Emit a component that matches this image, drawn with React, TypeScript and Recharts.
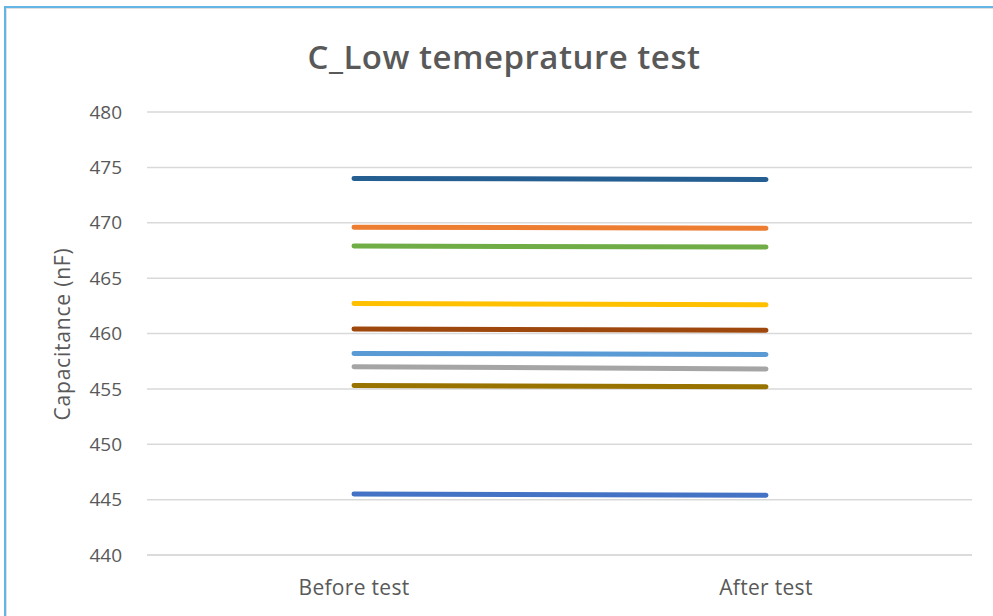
import React from "react";
import { LineChart, Line, XAxis, YAxis, CartesianGrid } from "recharts";

const categories = ["Before test", "After test"];
const s1 = [474.0, 473.9];
const s2 = [469.6, 469.5];
const s3 = [467.9, 467.8];
const s4 = [462.7, 462.6];
const s5 = [460.4, 460.3];
const s6 = [458.2, 458.1];
const s7 = [457.0, 456.8];
const s8 = [455.3, 455.2];
const s9 = [445.5, 445.4];
const yTicks = [440, 445, 450, 455, 460, 465, 470, 475, 480];

const seriesList = [s1, s2, s3, s4, s5, s6, s7, s8, s9];
const colors = ["#255E91", "#ED7D31", "#70AD47", "#FFC000", "#9E480E", "#5B9BD5", "#A5A5A5", "#997300", "#4472C4"];

const data = categories.map((c, i) => {
  const row: Record<string, number | string> = { name: c };
  seriesList.forEach((s, k) => {
    row["s" + k] = s[i];
  });
  return row;
});

const FONT = "'Open Sans', sans-serif";

export default function App() {
  return (
    <div style={{ position: "absolute", left: 0, top: 0, width: 993, height: 616, background: "#fff", overflow: "hidden" }}>
      <div style={{ position: "absolute", left: 4, top: 6, width: 1200, height: 800, borderLeft: "2px solid #63B5E6", borderTop: "2px solid #63B5E6", boxShadow: "inset 1px 1px 0 #e0e0e0" }} />
      <div style={{ position: "absolute", left: 0, top: 34, width: 1008, textAlign: "center", fontFamily: FONT, fontWeight: 600, fontSize: 33, letterSpacing: 0.5, lineHeight: "45px", color: "#595959" }}>
        C_Low temeprature test
      </div>
      <div style={{ position: "absolute", left: 0, top: 0 }}>
        <LineChart width={993} height={616} data={data} margin={{ top: 112, right: 21, bottom: 31, left: 0 }}>
          <CartesianGrid vertical={false} stroke="#d9d9d9" strokeWidth={1.5} />
          <XAxis
            dataKey="name"
            height={30}
            padding={{ left: 207, right: 206 }}
            axisLine={{ stroke: "#d9d9d9", strokeWidth: 1.5 }}
            tickLine={false}
            tickSize={0}
            tickMargin={25}
            tick={{ fill: "#595959", fontFamily: FONT, fontSize: 21, letterSpacing: 0.3 }}
          />
          <YAxis
            width={147}
            domain={[440, 480]}
            ticks={yTicks}
            axisLine={false}
            tickLine={false}
            tickSize={0}
            tickMargin={25}
            tick={{ fill: "#595959", fontFamily: FONT, fontSize: 19 }}
            label={{
              content: () => (
                <text x={62} y={334} transform="rotate(-90 62 334)" textAnchor="middle" dominantBaseline="central" fill="#595959" fontFamily={FONT} fontSize={21} letterSpacing={0.8}>
                  Capacitance (nF)
                </text>
              ),
            }}
          />
          {seriesList.map((_, k) => (
            <Line key={k} dataKey={"s" + k} stroke={colors[k]} strokeWidth={5} strokeLinecap="round" dot={false} activeDot={false} isAnimationActive={false} />
          ))}
        </LineChart>
      </div>
    </div>
  );
}
